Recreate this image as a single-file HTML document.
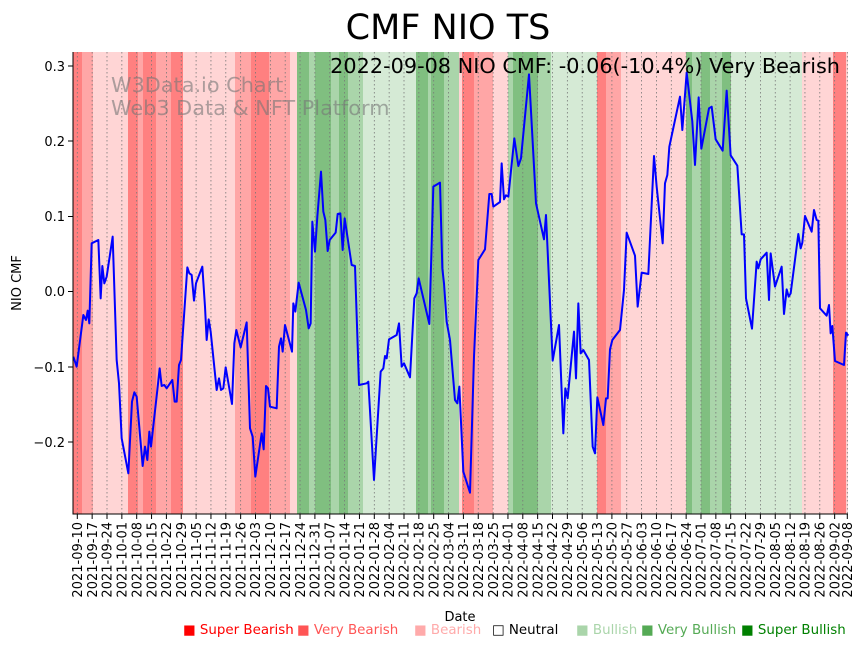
<!DOCTYPE html>
<html><head><meta charset="utf-8"><style>
body{margin:0;background:#fff;width:867px;height:646px;overflow:hidden}
svg text{font-family:"DejaVu Sans","Liberation Sans",sans-serif}
</style></head><body>
<svg width="867" height="646" viewBox="0 0 867 646" xmlns="http://www.w3.org/2000/svg">
<g>
<rect x="73" y="52" width="775" height="462" fill="#fff"/>
<rect x="73" y="52" width="9" height="462" fill="#ff8080"/>
<rect x="82" y="52" width="11" height="462" fill="#ffa6a6"/>
<rect x="93" y="52" width="35" height="462" fill="#ffd5d5"/>
<rect x="128" y="52" width="10" height="462" fill="#ff8080"/>
<rect x="138" y="52" width="5" height="462" fill="#ffa6a6"/>
<rect x="143" y="52" width="13" height="462" fill="#ff8080"/>
<rect x="156" y="52" width="15" height="462" fill="#ffa6a6"/>
<rect x="171" y="52" width="12" height="462" fill="#ff8080"/>
<rect x="183" y="52" width="52" height="462" fill="#ffd5d5"/>
<rect x="235" y="52" width="16" height="462" fill="#ffa6a6"/>
<rect x="251" y="52" width="18" height="462" fill="#ff8080"/>
<rect x="269" y="52" width="21" height="462" fill="#ffa6a6"/>
<rect x="290" y="52" width="7" height="462" fill="#ffd5d5"/>
<rect x="297" y="52" width="12" height="462" fill="#80bf80"/>
<rect x="309" y="52" width="6" height="462" fill="#aad5aa"/>
<rect x="315" y="52" width="16" height="462" fill="#80bf80"/>
<rect x="331" y="52" width="8" height="462" fill="#aad5aa"/>
<rect x="339" y="52" width="9" height="462" fill="#80bf80"/>
<rect x="348" y="52" width="15" height="462" fill="#aad5aa"/>
<rect x="363" y="52" width="53" height="462" fill="#d5ead5"/>
<rect x="416" y="52" width="12" height="462" fill="#80bf80"/>
<rect x="428" y="52" width="3" height="462" fill="#aad5aa"/>
<rect x="431" y="52" width="13" height="462" fill="#80bf80"/>
<rect x="444" y="52" width="15" height="462" fill="#aad5aa"/>
<rect x="459" y="52" width="3" height="462" fill="#ffd5d5"/>
<rect x="462" y="52" width="12" height="462" fill="#ff8080"/>
<rect x="474" y="52" width="19" height="462" fill="#ffa6a6"/>
<rect x="493" y="52" width="15" height="462" fill="#ffd5d5"/>
<rect x="508" y="52" width="5" height="462" fill="#aad5aa"/>
<rect x="513" y="52" width="25" height="462" fill="#80bf80"/>
<rect x="538" y="52" width="13" height="462" fill="#aad5aa"/>
<rect x="551" y="52" width="46" height="462" fill="#d5ead5"/>
<rect x="597" y="52" width="9" height="462" fill="#ff8080"/>
<rect x="606" y="52" width="15" height="462" fill="#ffa6a6"/>
<rect x="621" y="52" width="65" height="462" fill="#ffd5d5"/>
<rect x="686" y="52" width="6" height="462" fill="#80bf80"/>
<rect x="692" y="52" width="9" height="462" fill="#aad5aa"/>
<rect x="701" y="52" width="9" height="462" fill="#80bf80"/>
<rect x="710" y="52" width="12" height="462" fill="#aad5aa"/>
<rect x="722" y="52" width="9" height="462" fill="#80bf80"/>
<rect x="731" y="52" width="71" height="462" fill="#d5ead5"/>
<rect x="802" y="52" width="31" height="462" fill="#ffd5d5"/>
<rect x="833" y="52" width="13" height="462" fill="#ff8080"/>
<rect x="846" y="52" width="2" height="462" fill="#ffd5d5"/>
</g>
<g stroke="#777" stroke-width="0.8" stroke-dasharray="1.5,2.5">
<line x1="77.3" y1="52" x2="77.3" y2="514"/><line x1="92.15" y1="52" x2="92.15" y2="514"/><line x1="107" y1="52" x2="107" y2="514"/><line x1="121.85" y1="52" x2="121.85" y2="514"/><line x1="136.7" y1="52" x2="136.7" y2="514"/><line x1="151.55" y1="52" x2="151.55" y2="514"/><line x1="166.4" y1="52" x2="166.4" y2="514"/><line x1="181.25" y1="52" x2="181.25" y2="514"/><line x1="196.1" y1="52" x2="196.1" y2="514"/><line x1="210.95" y1="52" x2="210.95" y2="514"/><line x1="225.8" y1="52" x2="225.8" y2="514"/><line x1="240.65" y1="52" x2="240.65" y2="514"/><line x1="255.5" y1="52" x2="255.5" y2="514"/><line x1="270.35" y1="52" x2="270.35" y2="514"/><line x1="285.2" y1="52" x2="285.2" y2="514"/><line x1="300.05" y1="52" x2="300.05" y2="514"/><line x1="314.9" y1="52" x2="314.9" y2="514"/><line x1="329.75" y1="52" x2="329.75" y2="514"/><line x1="344.6" y1="52" x2="344.6" y2="514"/><line x1="359.45" y1="52" x2="359.45" y2="514"/><line x1="374.3" y1="52" x2="374.3" y2="514"/><line x1="389.15" y1="52" x2="389.15" y2="514"/><line x1="404" y1="52" x2="404" y2="514"/><line x1="418.85" y1="52" x2="418.85" y2="514"/><line x1="433.7" y1="52" x2="433.7" y2="514"/><line x1="448.55" y1="52" x2="448.55" y2="514"/><line x1="463.4" y1="52" x2="463.4" y2="514"/><line x1="478.25" y1="52" x2="478.25" y2="514"/><line x1="493.1" y1="52" x2="493.1" y2="514"/><line x1="507.95" y1="52" x2="507.95" y2="514"/><line x1="522.8" y1="52" x2="522.8" y2="514"/><line x1="537.65" y1="52" x2="537.65" y2="514"/><line x1="552.5" y1="52" x2="552.5" y2="514"/><line x1="567.35" y1="52" x2="567.35" y2="514"/><line x1="582.2" y1="52" x2="582.2" y2="514"/><line x1="597.05" y1="52" x2="597.05" y2="514"/><line x1="611.9" y1="52" x2="611.9" y2="514"/><line x1="626.75" y1="52" x2="626.75" y2="514"/><line x1="641.6" y1="52" x2="641.6" y2="514"/><line x1="656.45" y1="52" x2="656.45" y2="514"/><line x1="671.3" y1="52" x2="671.3" y2="514"/><line x1="686.15" y1="52" x2="686.15" y2="514"/><line x1="701" y1="52" x2="701" y2="514"/><line x1="715.85" y1="52" x2="715.85" y2="514"/><line x1="730.7" y1="52" x2="730.7" y2="514"/><line x1="745.55" y1="52" x2="745.55" y2="514"/><line x1="760.4" y1="52" x2="760.4" y2="514"/><line x1="775.25" y1="52" x2="775.25" y2="514"/><line x1="790.1" y1="52" x2="790.1" y2="514"/><line x1="804.95" y1="52" x2="804.95" y2="514"/><line x1="819.8" y1="52" x2="819.8" y2="514"/><line x1="834.65" y1="52" x2="834.65" y2="514"/><line x1="847.3" y1="52" x2="847.3" y2="514"/>
</g>
<text x="111" y="92" font-size="20.8" fill="#777" fill-opacity="0.6">W3Data.io Chart</text>
<text x="111" y="115" font-size="20.8" fill="#777" fill-opacity="0.6">Web3 Data &amp; NFT Platform</text>
<g transform="translate(70,50) scale(0.33333)">
<polyline fill="none" stroke="#0000ff" stroke-width="6" stroke-linejoin="round" points="10,920 20,950 40,795 48,810 53,782 58,820 65,580 85,570 92,745 97,648 103,700 110,680 128,560 140,930 147,1000 155,1165 175,1270 186,1055 193,1027 200,1040 218,1248 225,1190 232,1230 238,1145 243,1190 262,1020 269,955 275,1008 283,1005 290,1015 307,990 314,1055 320,1055 327,945 333,930 352,652 358,670 365,675 372,752 378,700 397,650 405,770 410,870 416,808 422,845 440,1020 447,985 453,1020 460,1015 467,952 486,1062 493,880 499,840 512,892 530,817 540,1135 548,1160 556,1280 575,1150 581,1198 588,1008 594,1015 600,1070 620,1075 627,890 633,865 638,905 645,825 666,905 670,760 676,785 686,698 708,780 716,835 722,820 727,515 735,605 742,500 753,365 760,485 766,510 773,603 779,570 797,548 803,492 811,490 818,600 824,505 845,645 855,648 867,1005 890,1000 895,995 912,1290 932,965 940,955 945,918 950,925 957,868 980,855 987,820 995,950 1002,940 1020,982 1033,745 1040,730 1046,685 1078,822 1090,410 1110,398 1117,655 1122,700 1130,815 1140,870"/>
</g>
<g transform="translate(450,50) scale(0.33333)">
<polyline fill="none" stroke="#0000ff" stroke-width="6" stroke-linejoin="round" points="0,870 15,1050 22,1060 28,1010 40,1265 60,1328 72,920 85,630 105,598 118,432 125,432 130,470 150,456 155,340 162,448 168,436 175,440 193,265 205,348 213,325 237,73 258,460 282,568 288,495 308,932 327,825 340,1150 346,1015 353,1045 372,845 378,985 385,760 392,910 400,900 417,930 428,1190 435,1210 442,1042 460,1125 468,1045 473,1045 480,898 487,870 510,840 522,720 530,548 555,617 563,770 575,668 595,672 612,318 620,410 638,580 645,400 652,375 658,290 690,140 697,240 710,68 727,215 735,345 746,142 754,296 777,175 785,170 797,268 818,302 830,122 842,316 862,347 875,553 882,553 888,745 906,836 920,635 925,655 932,628 950,608 957,750 962,610 975,710 995,650 1002,792 1010,718 1016,740 1022,730 1045,552 1052,595 1057,578 1065,498 1085,545 1092,480 1100,510 1105,512 1110,775 1130,797 1137,765 1142,850 1147,828 1155,933 1182,945 1188,848 1195,857"/>
</g>
<line x1="73" y1="52" x2="73" y2="514.5" stroke="#000" stroke-width="1"/>
<line x1="72.5" y1="514" x2="848" y2="514" stroke="#000" stroke-width="1"/>
<g stroke="#000" stroke-width="1">
<line x1="68" y1="66" x2="73" y2="66"/><line x1="68" y1="141" x2="73" y2="141"/><line x1="68" y1="216.5" x2="73" y2="216.5"/><line x1="68" y1="291.5" x2="73" y2="291.5"/><line x1="68" y1="367" x2="73" y2="367"/><line x1="68" y1="442" x2="73" y2="442"/>
</g>
<g font-size="13" text-anchor="end" fill="#000">
<text x="65" y="71">0.3</text><text x="65" y="146">0.2</text><text x="65" y="221">0.1</text><text x="65" y="296">0.0</text><text x="65" y="372">−0.1</text><text x="65" y="447">−0.2</text>
</g>
<text transform="translate(21,283) rotate(-90)" font-size="13" text-anchor="middle">NIO CMF</text>
<g stroke="#000" stroke-width="1">
<line x1="77.3" y1="514" x2="77.3" y2="519"/><line x1="92.15" y1="514" x2="92.15" y2="519"/><line x1="107" y1="514" x2="107" y2="519"/><line x1="121.85" y1="514" x2="121.85" y2="519"/><line x1="136.7" y1="514" x2="136.7" y2="519"/><line x1="151.55" y1="514" x2="151.55" y2="519"/><line x1="166.4" y1="514" x2="166.4" y2="519"/><line x1="181.25" y1="514" x2="181.25" y2="519"/><line x1="196.1" y1="514" x2="196.1" y2="519"/><line x1="210.95" y1="514" x2="210.95" y2="519"/><line x1="225.8" y1="514" x2="225.8" y2="519"/><line x1="240.65" y1="514" x2="240.65" y2="519"/><line x1="255.5" y1="514" x2="255.5" y2="519"/><line x1="270.35" y1="514" x2="270.35" y2="519"/><line x1="285.2" y1="514" x2="285.2" y2="519"/><line x1="300.05" y1="514" x2="300.05" y2="519"/><line x1="314.9" y1="514" x2="314.9" y2="519"/><line x1="329.75" y1="514" x2="329.75" y2="519"/><line x1="344.6" y1="514" x2="344.6" y2="519"/><line x1="359.45" y1="514" x2="359.45" y2="519"/><line x1="374.3" y1="514" x2="374.3" y2="519"/><line x1="389.15" y1="514" x2="389.15" y2="519"/><line x1="404" y1="514" x2="404" y2="519"/><line x1="418.85" y1="514" x2="418.85" y2="519"/><line x1="433.7" y1="514" x2="433.7" y2="519"/><line x1="448.55" y1="514" x2="448.55" y2="519"/><line x1="463.4" y1="514" x2="463.4" y2="519"/><line x1="478.25" y1="514" x2="478.25" y2="519"/><line x1="493.1" y1="514" x2="493.1" y2="519"/><line x1="507.95" y1="514" x2="507.95" y2="519"/><line x1="522.8" y1="514" x2="522.8" y2="519"/><line x1="537.65" y1="514" x2="537.65" y2="519"/><line x1="552.5" y1="514" x2="552.5" y2="519"/><line x1="567.35" y1="514" x2="567.35" y2="519"/><line x1="582.2" y1="514" x2="582.2" y2="519"/><line x1="597.05" y1="514" x2="597.05" y2="519"/><line x1="611.9" y1="514" x2="611.9" y2="519"/><line x1="626.75" y1="514" x2="626.75" y2="519"/><line x1="641.6" y1="514" x2="641.6" y2="519"/><line x1="656.45" y1="514" x2="656.45" y2="519"/><line x1="671.3" y1="514" x2="671.3" y2="519"/><line x1="686.15" y1="514" x2="686.15" y2="519"/><line x1="701" y1="514" x2="701" y2="519"/><line x1="715.85" y1="514" x2="715.85" y2="519"/><line x1="730.7" y1="514" x2="730.7" y2="519"/><line x1="745.55" y1="514" x2="745.55" y2="519"/><line x1="760.4" y1="514" x2="760.4" y2="519"/><line x1="775.25" y1="514" x2="775.25" y2="519"/><line x1="790.1" y1="514" x2="790.1" y2="519"/><line x1="804.95" y1="514" x2="804.95" y2="519"/><line x1="819.8" y1="514" x2="819.8" y2="519"/><line x1="834.65" y1="514" x2="834.65" y2="519"/><line x1="847.3" y1="514" x2="847.3" y2="519"/>
</g>
<g font-size="13" text-anchor="end" fill="#000">
<text transform="translate(82,522) rotate(-90)">2021-09-10</text>
<text transform="translate(96.85,522) rotate(-90)">2021-09-17</text>
<text transform="translate(111.7,522) rotate(-90)">2021-09-24</text>
<text transform="translate(126.55,522) rotate(-90)">2021-10-01</text>
<text transform="translate(141.4,522) rotate(-90)">2021-10-08</text>
<text transform="translate(156.25,522) rotate(-90)">2021-10-15</text>
<text transform="translate(171.1,522) rotate(-90)">2021-10-22</text>
<text transform="translate(185.95,522) rotate(-90)">2021-10-29</text>
<text transform="translate(200.8,522) rotate(-90)">2021-11-05</text>
<text transform="translate(215.65,522) rotate(-90)">2021-11-12</text>
<text transform="translate(230.5,522) rotate(-90)">2021-11-19</text>
<text transform="translate(245.35,522) rotate(-90)">2021-11-26</text>
<text transform="translate(260.2,522) rotate(-90)">2021-12-03</text>
<text transform="translate(275.05,522) rotate(-90)">2021-12-10</text>
<text transform="translate(289.9,522) rotate(-90)">2021-12-17</text>
<text transform="translate(304.75,522) rotate(-90)">2021-12-24</text>
<text transform="translate(319.6,522) rotate(-90)">2021-12-31</text>
<text transform="translate(334.45,522) rotate(-90)">2022-01-07</text>
<text transform="translate(349.3,522) rotate(-90)">2022-01-14</text>
<text transform="translate(364.15,522) rotate(-90)">2022-01-21</text>
<text transform="translate(379,522) rotate(-90)">2022-01-28</text>
<text transform="translate(393.85,522) rotate(-90)">2022-02-04</text>
<text transform="translate(408.7,522) rotate(-90)">2022-02-11</text>
<text transform="translate(423.55,522) rotate(-90)">2022-02-18</text>
<text transform="translate(438.4,522) rotate(-90)">2022-02-25</text>
<text transform="translate(453.25,522) rotate(-90)">2022-03-04</text>
<text transform="translate(468.1,522) rotate(-90)">2022-03-11</text>
<text transform="translate(482.95,522) rotate(-90)">2022-03-18</text>
<text transform="translate(497.8,522) rotate(-90)">2022-03-25</text>
<text transform="translate(512.65,522) rotate(-90)">2022-04-01</text>
<text transform="translate(527.5,522) rotate(-90)">2022-04-08</text>
<text transform="translate(542.35,522) rotate(-90)">2022-04-15</text>
<text transform="translate(557.2,522) rotate(-90)">2022-04-22</text>
<text transform="translate(572.05,522) rotate(-90)">2022-04-29</text>
<text transform="translate(586.9,522) rotate(-90)">2022-05-06</text>
<text transform="translate(601.75,522) rotate(-90)">2022-05-13</text>
<text transform="translate(616.6,522) rotate(-90)">2022-05-20</text>
<text transform="translate(631.45,522) rotate(-90)">2022-05-27</text>
<text transform="translate(646.3,522) rotate(-90)">2022-06-03</text>
<text transform="translate(661.15,522) rotate(-90)">2022-06-10</text>
<text transform="translate(676,522) rotate(-90)">2022-06-17</text>
<text transform="translate(690.85,522) rotate(-90)">2022-06-24</text>
<text transform="translate(705.7,522) rotate(-90)">2022-07-01</text>
<text transform="translate(720.55,522) rotate(-90)">2022-07-08</text>
<text transform="translate(735.4,522) rotate(-90)">2022-07-15</text>
<text transform="translate(750.25,522) rotate(-90)">2022-07-22</text>
<text transform="translate(765.1,522) rotate(-90)">2022-07-29</text>
<text transform="translate(779.95,522) rotate(-90)">2022-08-05</text>
<text transform="translate(794.8,522) rotate(-90)">2022-08-12</text>
<text transform="translate(809.65,522) rotate(-90)">2022-08-19</text>
<text transform="translate(824.5,522) rotate(-90)">2022-08-26</text>
<text transform="translate(839.35,522) rotate(-90)">2022-09-02</text>
<text transform="translate(852,522) rotate(-90)">2022-09-08</text>
</g>
<text x="460" y="621" font-size="13" text-anchor="middle">Date</text>
<text x="448" y="39" font-size="35" text-anchor="middle">CMF NIO TS</text>
<text x="840" y="73" font-size="20.8" text-anchor="end">2022-09-08 NIO CMF: -0.06(-10.4%) Very Bearish</text>
<g font-size="13.4">
<text x="183" y="634" fill="#ff0000">■ Super Bearish</text>
<text x="297" y="634" fill="#ff5555">■ Very Bearish</text>
<text x="414" y="634" fill="#ffaaaa">■ Bearish</text>
<text x="492" y="634" fill="#000">□ Neutral</text>
<text x="576" y="634" fill="#aad5aa">■ Bullish</text>
<text x="641" y="634" fill="#55aa55">■ Very Bullish</text>
<text x="741" y="634" fill="#008000">■ Super Bullish</text>
</g>
</svg>
</body></html>
